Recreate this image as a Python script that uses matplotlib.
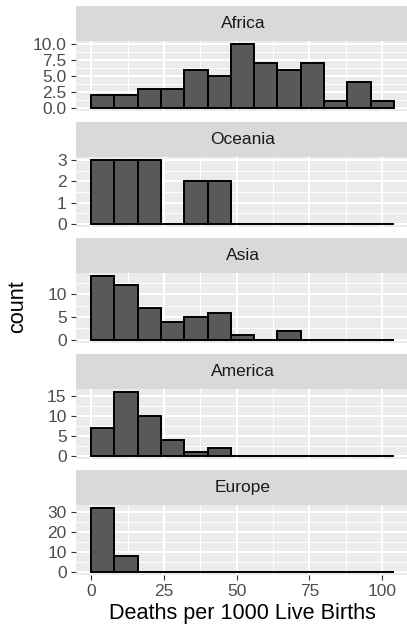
import numpy as np
import matplotlib
matplotlib.use("Agg")
import matplotlib.pyplot as plt
from matplotlib.ticker import FixedLocator, FormatStrFormatter

# histogram counts, binwidth 8 starting at 0
bin_edges = [0, 8, 16, 24, 32, 40, 48, 56, 64, 72, 80, 88, 96, 104]
regions = ["Africa", "Oceania", "Asia", "America", "Europe"]
africa = [2, 2, 3, 3, 6, 5, 10, 7, 6, 7, 1, 4, 1]
oceania = [3, 3, 3, 0, 2, 2, 0, 0, 0, 0, 0, 0, 0]
asia = [14, 12, 7, 4, 5, 6, 1, 0, 2, 0, 0, 0, 0]
america = [7, 16, 10, 4, 1, 2, 0, 0, 0, 0, 0, 0, 0]
europe = [32, 8, 0, 0, 0, 0, 0, 0, 0, 0, 0, 0, 0]
counts = [africa, oceania, asia, america, europe]

y_breaks = [[0, 2.5, 5, 7.5, 10], [0, 1, 2, 3], [0, 5, 10],
            [0, 5, 10, 15], [0, 10, 20, 30]]
x_breaks = [0, 25, 50, 75, 100]

plt.rcParams["font.family"] = ["Liberation Sans", "DejaVu Sans"]

W, H = 407, 626
fig = plt.figure(figsize=(W / 100, H / 100), dpi=100)


def box(left, top, right, bottom):
    return [left / W, 1 - bottom / H, (right - left) / W, (bottom - top) / H]


edges = np.array(bin_edges)
widths = np.diff(edges)
xlo = edges[0] - 0.05 * (edges[-1] - edges[0])
xhi = edges[-1] + 0.05 * (edges[-1] - edges[0])
x_minor = [(a + b) / 2 for a, b in zip(x_breaks[:-1], x_breaks[1:])]

for i, (name, cnt, yb) in enumerate(zip(regions, counts, y_breaks)):
    top = 6 + 116 * i
    # strip
    sax = fig.add_axes(box(76, top, 409, top + 35))
    sax.set_facecolor("#D9D9D9")
    sax.set_xticks([])
    sax.set_yticks([])
    for s in sax.spines.values():
        s.set_visible(False)
    sax.text(167 / 333, 0.5, name, transform=sax.transAxes, ha="center",
             va="center", fontsize=12.5, color="#1A1A1A")

    ax = fig.add_axes(box(76, top + 35, 409, top + 105))
    ax.set_facecolor("#EBEBEB")
    for s in ax.spines.values():
        s.set_visible(False)
    ax.bar(edges[:-1], cnt, width=widths, align="edge", color="#595959",
           edgecolor="black", linewidth=1.4, zorder=3)
    ymax = max(cnt)
    ax.set_ylim(-0.05 * ymax, ymax * 1.05)
    ax.set_xlim(xlo, xhi)

    ax.yaxis.set_major_locator(FixedLocator(yb))
    y_minor = [(a + b) / 2 for a, b in zip(yb[:-1], yb[1:])]
    step = yb[1] - yb[0]
    if yb[-1] + step / 2 < ymax * 1.05:
        y_minor.append(yb[-1] + step / 2)
    ax.yaxis.set_minor_locator(FixedLocator(y_minor))
    ax.xaxis.set_major_locator(FixedLocator(x_breaks))
    ax.xaxis.set_minor_locator(FixedLocator(x_minor))
    if name == "Africa":
        ax.yaxis.set_major_formatter(FormatStrFormatter("%.1f"))
    else:
        ax.yaxis.set_major_formatter(FormatStrFormatter("%d"))

    ax.grid(which="major", color="white", linewidth=1.45)
    ax.grid(which="minor", color="white", linewidth=0.7)
    ax.set_axisbelow(True)
    ax.tick_params(which="minor", length=0)
    ax.tick_params(axis="y", which="major", length=3.9, width=0.8,
                   color="#333333", labelsize=12.5, labelcolor="#4D4D4D",
                   pad=2.9)
    if i == len(regions) - 1:
        ax.tick_params(axis="x", which="major", length=3.9, width=0.8,
                       color="#333333", labelsize=12.5, labelcolor="#4D4D4D",
                       pad=2.5)
    else:
        ax.tick_params(axis="x", which="major", length=0, labelbottom=False)

fig.text(242.5 / W, 1 - 613 / H, "Deaths per 1000 Live Births",
         ha="center", va="center", fontsize=15.6, color="black")
fig.text(18 / W, 1 - 307 / H, "count", rotation=90, ha="center",
         va="center", fontsize=15.6, color="black")

fig.savefig("out.png", dpi=100)
